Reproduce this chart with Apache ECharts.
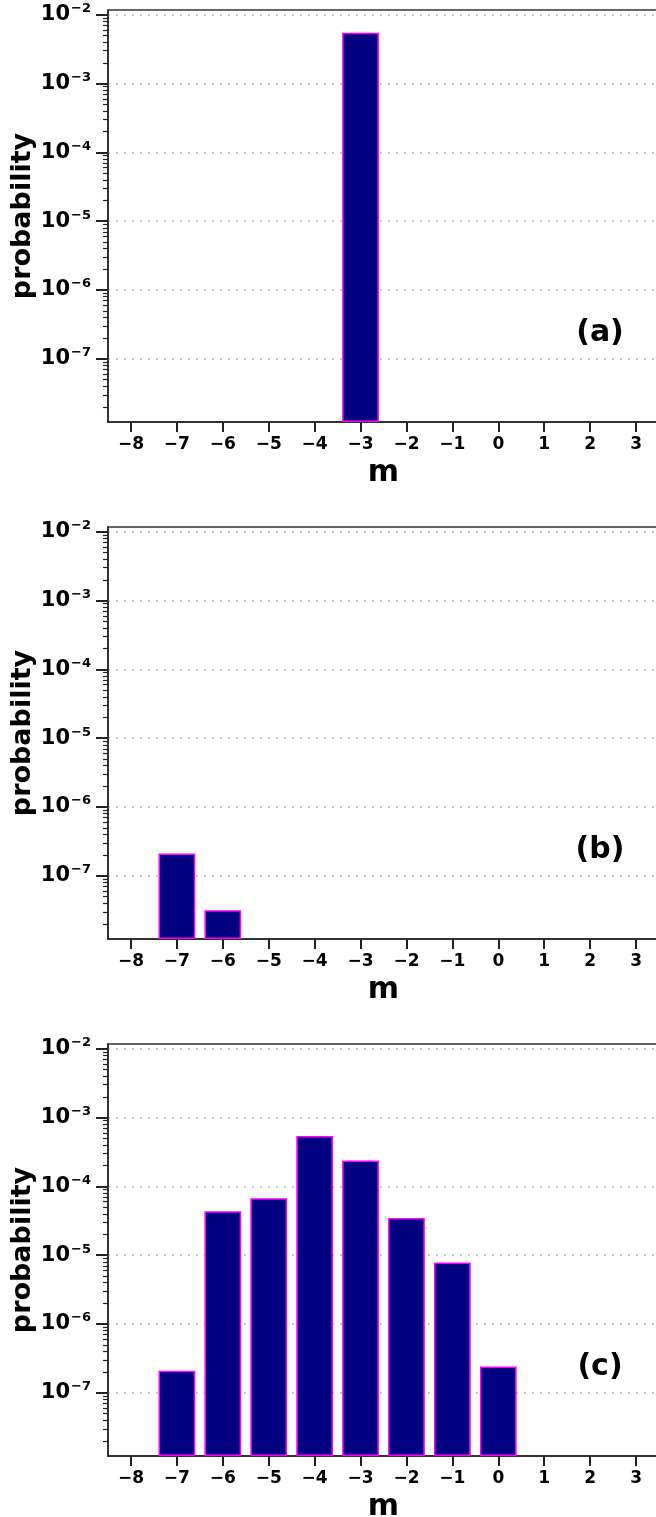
<!DOCTYPE html>
<html>
<head>
<meta charset="utf-8">
<script src="https://cdn.jsdelivr.net/npm/echarts@6/dist/echarts.min.js"></script>
<style>
html,body{margin:0;padding:0;background:#fff;}
#chart{width:656px;height:1517px;}
</style>
</head>
<body>
<div id="chart"></div>
<script>
// ---- data ----
const mValues = [-8, -7, -6, -5, -4, -3, -2, -1, 0, 1, 2, 3];
const probA = [null, null, null, null, null, 5.45e-3, null, null, null, null, null, null];
const probB = [null, 2.12e-7, 3.17e-8, null, null, null, null, null, null, null, null, null];
const probC = [null, 2.1e-7, 4.35e-5, 6.7e-5, 5.4e-4, 2.37e-4, 3.48e-5, 7.8e-6, 2.42e-7, null, null, null];
const panelLabels = ['(a)', '(b)', '(c)'];
const majorTicks = [1e-7, 1e-6, 1e-5, 1e-4, 1e-3, 1e-2];
const minorTicks = [];
for (let e = -8; e <= -3; e++) for (let k = 2; k <= 9; k++) minorTicks.push(k * Math.pow(10, e));
const yMin = 1.21e-8, yMax = 1.17e-2;

const FONT = 'DejaVu Sans';
const tops = [10, 527, 1044];
const series = [probA, probB, probC];
const catLabels = mValues.map(v => String(v).replace('-', '\u2212'));

const grids = [], xAxes = [], yAxes = [], ser = [], graphics = [];
tops.forEach((top, i) => {
  grids.push({left: 108, top: top, width: 551, height: 412, show: true,
    outerBoundsMode: 'none', containLabel: false,
    borderColor: '#333', borderWidth: 1.5, backgroundColor: 'transparent'});
  xAxes.push({
    type: 'category', gridIndex: i, data: catLabels, boundaryGap: true,
    axisLine: {show: true, lineStyle: {color: '#222', width: 1.5}},
    axisTick: {show: true, alignWithLabel: true, length: 10, lineStyle: {color: '#222', width: 2}},
    axisLabel: {fontFamily: FONT, fontWeight: 'bold', fontSize: 17, color: '#000', margin: 14, interval: 0},
    splitLine: {show: false},
    name: 'm', nameLocation: 'middle', nameGap: 36, nameMoveOverlap: false,
    nameTextStyle: {fontFamily: FONT, fontWeight: 'bold', fontSize: 30, color: '#000'}
  });
  yAxes.push({
    type: 'log', logBase: 10, gridIndex: i, min: yMin, max: yMax, startValue: yMin,
    position: 'left',
    axisLine: {show: true, lineStyle: {color: '#222', width: 1.5}},
    axisTick: {show: true, length: 12, customValues: majorTicks, lineStyle: {color: '#222', width: 2}},
    axisLabel: {
      customValues: majorTicks, margin: 17,
      formatter: v => '{b|10}{s|\u2212' + Math.abs(Math.round(Math.log10(v))) + '}',
      rich: {
        b: {fontFamily: FONT, fontWeight: 'bold', fontSize: 21, color: '#000'},
        s: {fontFamily: FONT, fontWeight: 'bold', fontSize: 13, color: '#000', padding: [0, 0, 12, 1]}
      }
    },
    splitLine: {show: true, lineStyle: {color: '#c8c8c8', width: 2, type: [2, 6]}},
    minorTick: {show: false},
    name: 'probability', nameLocation: 'middle', nameRotate: 90, nameGap: 72, nameMoveOverlap: false,
    nameTextStyle: {fontFamily: FONT, fontWeight: 'bold', fontSize: 27, color: '#000'}
  });
  yAxes.push({
    type: 'log', logBase: 10, gridIndex: i, min: yMin, max: yMax, position: 'left',
    axisLine: {show: false},
    axisTick: {show: true, length: 5, customValues: minorTicks, lineStyle: {color: '#222', width: 1.2}},
    axisLabel: {show: false},
    splitLine: {show: false}
  });
  ser.push({
    type: 'bar', xAxisIndex: i, yAxisIndex: 2 * i, data: series[i], barWidth: '80%',
    itemStyle: {color: '#000080', borderColor: '#ff00ff', borderWidth: 1.5},
    emphasis: {disabled: true}, silent: true
  });
  graphics.push({
    type: 'text', x: 600, y: top + 323,
    style: {text: panelLabels[i], font: 'bold 30px "DejaVu Sans"', fill: '#000', align: 'center', verticalAlign: 'middle'}
  });
});

const chart = echarts.init(document.getElementById('chart'), null, {renderer: 'canvas'});
chart.setOption({
  animation: false,
  backgroundColor: '#fff',
  grid: grids, xAxis: xAxes, yAxis: yAxes, series: ser, graphic: graphics
});
</script>
</body>
</html>
